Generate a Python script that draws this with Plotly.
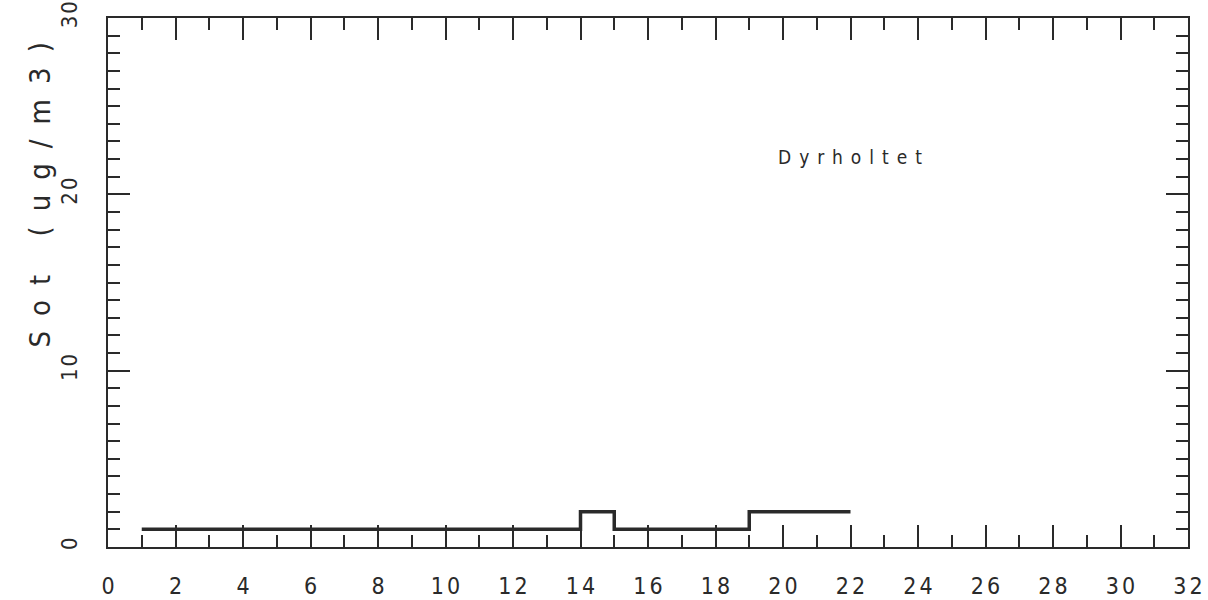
import plotly.graph_objects as go

# Data
day = [1, 14, 15, 19, 22]
sot = [1, 2, 1, 2, 2]
x_tickvals = list(range(0, 33, 2))
x_ticktext = [str(v) for v in x_tickvals]
y_tickvals = [0, 10, 20, 30]
y_ticktext = [str(v) for v in y_tickvals]
station = "Dyrholtet"
y_title = "Sot (ug/m3)"

INK = "#2a2a2a"
FONT = "Liberation Sans Narrow, DejaVu Sans Condensed, Arial Narrow, sans-serif"

fig = go.Figure()
fig.add_trace(go.Scatter(
    x=day, y=sot, mode="lines", line=dict(shape="hv", color=INK, width=3.5),
    showlegend=False, hoverinfo="skip"))

axis_common = dict(
    showgrid=False, zeroline=False, showline=True, linecolor=INK, linewidth=2,
    mirror="ticks", ticks="inside", tickcolor=INK, tickwidth=2, automargin=False,
)

fig.update_xaxes(
    range=[0, 32], tickvals=x_tickvals, ticktext=x_ticktext, ticklen=22,
    minor=dict(dtick=1, tick0=0, ticklen=12, ticks="inside", tickcolor=INK, tickwidth=2, showgrid=False),
    tickfont=dict(family=FONT, size=23, color=INK), ticklabelstandoff=17,
    **axis_common)
fig.update_yaxes(
    range=[0, 30], tickvals=y_tickvals, ticktext=y_ticktext, ticklen=22,
    minor=dict(dtick=1, tick0=0, ticklen=12, ticks="inside", tickcolor=INK, tickwidth=2, showgrid=False),
    tickfont=dict(family=FONT, size=22, color=INK), tickangle=-90, ticklabelstandoff=20,
    **axis_common)

PW, PH = 1080, 529
fig.add_annotation(x=22.1, y=22.1, xref="x", yref="y", text=station, showarrow=False,
                   font=dict(family=FONT, size=19, color=INK))
fig.add_annotation(x=(40 - 108) / PW, y=(547 - 188) / PH, xref="paper", yref="paper",
                   text=y_title, showarrow=False, textangle=-90,
                   xanchor="center", yanchor="middle",
                   font=dict(family=FONT, size=29, color=INK))

fig.update_layout(
    width=1208, height=600, margin=dict(l=108, r=20, t=18, b=53, autoexpand=False),
    paper_bgcolor="white", plot_bgcolor="white",
)

post = """
document.body.style.margin = '0';
document.body.style.padding = '0';
function spaceText(sel, sp){
  document.querySelectorAll(sel).forEach(function(t){
    t.style.letterSpacing = sp + 'px';
    var dx = parseFloat(t.getAttribute('dx')||0);
    t.setAttribute('dx', dx + sp/2);
  });
}
spaceText('.xtick text', 3);
spaceText('.ytick text', 2);
var ann = document.querySelectorAll('.annotation-text');
if (ann.length > 0) { ann[0].style.letterSpacing='8px'; }
if (ann.length > 1) { ann[1].style.letterSpacing='15px'; }
"""
fig.write_html("out.html", post_script=post, config={"displayModeBar": False})
